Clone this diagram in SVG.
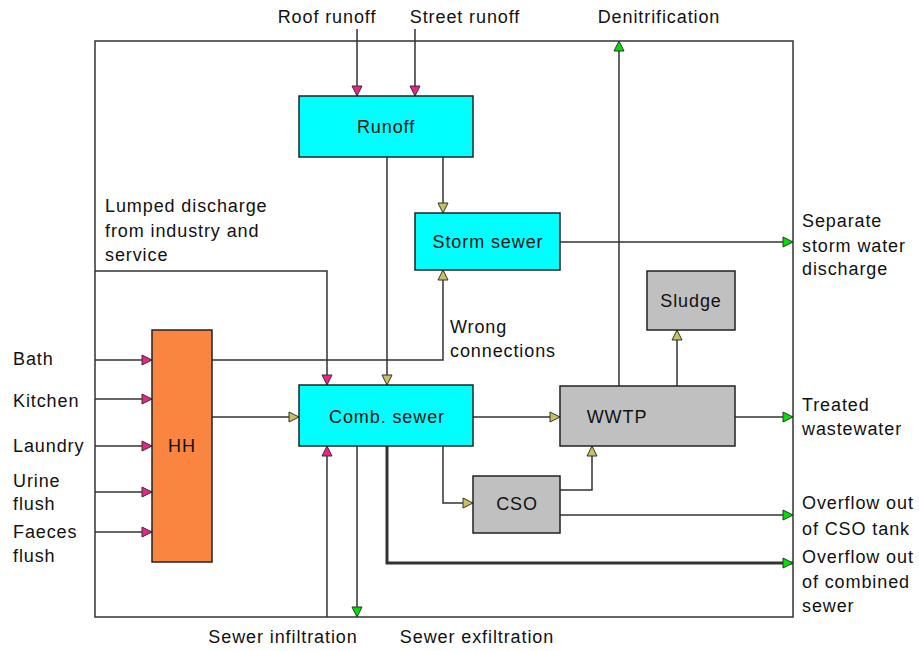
<svg xmlns="http://www.w3.org/2000/svg" width="919" height="651" viewBox="0 0 919 651">
<style>
text{font-family:"Liberation Sans",Arial,sans-serif;font-size:18px;letter-spacing:0.9px;fill:#111}
.n text{text-anchor:middle}
.box{stroke:#222;stroke-width:1.5}
.cy{fill:#00FFFF}.gr{fill:#C0C0C0}.or{fill:#F98540}
.c path{fill:none;stroke:#333;stroke-width:1.5}
.c path.thick{stroke-width:3}
.frame{fill:none;stroke:#333;stroke-width:1.5}
</style>
<defs>
<marker id="am" markerUnits="userSpaceOnUse" markerWidth="12" markerHeight="12" viewBox="0 0 12 12" refX="11" refY="6" orient="auto"><path d="M1,1 L11,6 L1,11 Z" fill="#F0208A" stroke="#333" stroke-width="1"/></marker>
<marker id="ay" markerUnits="userSpaceOnUse" markerWidth="12" markerHeight="12" viewBox="0 0 12 12" refX="11" refY="6" orient="auto"><path d="M1,1 L11,6 L1,11 Z" fill="#C8C060" stroke="#333" stroke-width="1"/></marker>
<marker id="ag" markerUnits="userSpaceOnUse" markerWidth="12" markerHeight="12" viewBox="0 0 12 12" refX="11" refY="6" orient="auto"><path d="M1,1 L11,6 L1,11 Z" fill="#00E000" stroke="#333" stroke-width="1"/></marker>
</defs>
<rect width="919" height="651" fill="#fff"/>
<rect class="frame" x="95" y="41" width="698" height="576"/>
<g class="c" id="connectors">
<path d="M357,29 V96" marker-end="url(#am)"/>
<path d="M415,29 V96" marker-end="url(#am)"/>
<path d="M443,157 V213" marker-end="url(#ay)"/>
<path d="M387,157 V385" marker-end="url(#ay)"/>
<path d="M560,242 H793" marker-end="url(#ag)"/>
<path d="M619,386 V41" marker-end="url(#ag)"/>
<path d="M677,386 V330" marker-end="url(#ay)"/>
<path d="M735,417 H793" marker-end="url(#ag)"/>
<path d="M560,490 H592 V446" marker-end="url(#ay)"/>
<path d="M560,515 H793" marker-end="url(#ag)"/>
<path class="thick" d="M387,446 V563 H793" marker-end="url(#ag)"/>
<path d="M473,417 H560" marker-end="url(#ay)"/>
<path d="M443,446 V503 H473" marker-end="url(#ay)"/>
<path d="M357,446 V617" marker-end="url(#ag)"/>
<path d="M327,617 V446" marker-end="url(#am)"/>
<path d="M95,271 H327 V385" marker-end="url(#am)"/>
<path d="M212,360 H443 V270" marker-end="url(#ay)"/>
<path d="M212,417 H299" marker-end="url(#ay)"/>
<path d="M95,360 H152" marker-end="url(#am)"/>
<path d="M95,399 H152" marker-end="url(#am)"/>
<path d="M95,446 H152" marker-end="url(#am)"/>
<path d="M95,492 H152" marker-end="url(#am)"/>
<path d="M95,532 H152" marker-end="url(#am)"/>
</g>
<g class="n" id="runoff"><rect class="box cy" x="299" y="96" width="174" height="61"/><text x="386" y="133">Runoff</text></g>
<g class="n" id="storm"><rect class="box cy" x="415" y="213" width="145" height="57"/><text x="488" y="248">Storm sewer</text></g>
<g class="n" id="sludge"><rect class="box gr" x="647" y="271" width="88" height="59"/><text x="691" y="307">Sludge</text></g>
<g class="n" id="wwtp"><rect class="box gr" x="560" y="386" width="175" height="60"/><text x="617" y="423">WWTP</text></g>
<g class="n" id="comb"><rect class="box cy" x="299" y="385" width="174" height="61"/><text x="387" y="423">Comb. sewer</text></g>
<g class="n" id="cso"><rect class="box gr" x="473" y="476" width="87" height="57"/><text x="517" y="510">CSO</text></g>
<g class="n" id="hh"><rect class="box or" x="152" y="330" width="60" height="232"/><text x="182" y="452">HH</text></g>
<g id="labels">
<text x="327" y="23" text-anchor="middle">Roof runoff</text>
<text x="465" y="23" text-anchor="middle">Street runoff</text>
<text x="659" y="23" text-anchor="middle">Denitrification</text>
<text x="105" y="212">Lumped discharge</text>
<text x="105" y="237">from industry and</text>
<text x="105" y="261">service</text>
<text x="802" y="227">Separate</text>
<text x="802" y="252">storm water</text>
<text x="802" y="275">discharge</text>
<text x="450" y="333">Wrong</text>
<text x="450" y="357">connections</text>
<text x="802" y="411">Treated</text>
<text x="802" y="435">wastewater</text>
<text x="802" y="509">Overflow out</text>
<text x="802" y="535">of CSO tank</text>
<text x="802" y="563">Overflow out</text>
<text x="802" y="588">of combined</text>
<text x="802" y="612">sewer</text>
<text x="13" y="365">Bath</text>
<text x="13" y="407">Kitchen</text>
<text x="13" y="452">Laundry</text>
<text x="13" y="487">Urine</text>
<text x="13" y="510">flush</text>
<text x="13" y="538">Faeces</text>
<text x="13" y="562">flush</text>
<text x="283" y="643" text-anchor="middle">Sewer infiltration</text>
<text x="477" y="643" text-anchor="middle">Sewer exfiltration</text>
</g>
</svg>
